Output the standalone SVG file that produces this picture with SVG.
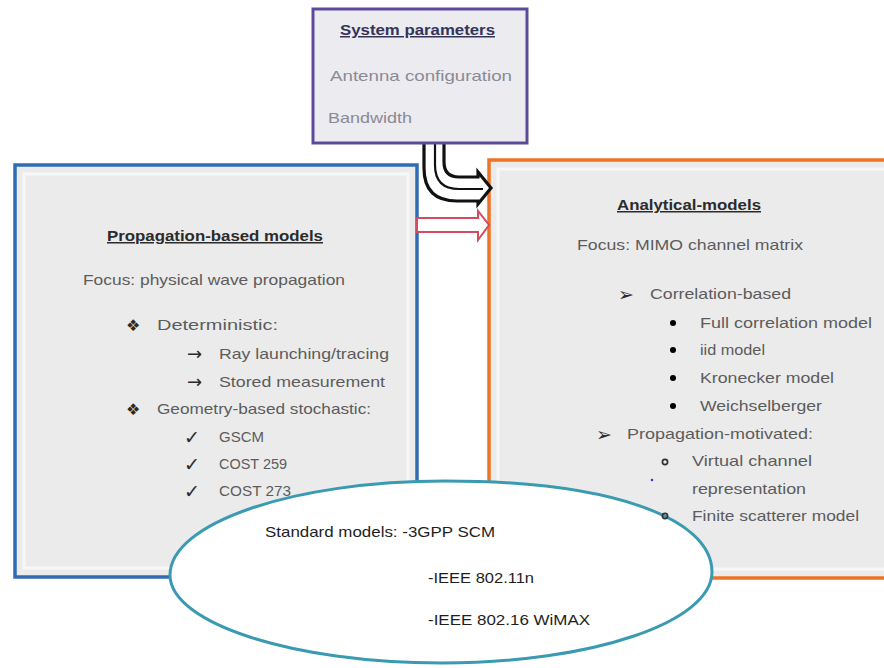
<svg xmlns="http://www.w3.org/2000/svg" width="884" height="668" viewBox="0 0 884 668">
  <style>
    .box { fill: #ebebeb; }
    .frame { fill: none; stroke: #f7f7f7; stroke-width: 3; }
    .t { font-family: "Liberation Sans", Arial, sans-serif; font-size: 15px; fill: #5c5c5c; }
    .h { font-family: "Liberation Sans", Arial, sans-serif; font-size: 15px; font-weight: bold; fill: #2b2b2b; text-decoration: underline; }
    .sym { font-family: "DejaVu Sans", sans-serif; fill: #2a2a2a; }
    .e { font-family: "Liberation Sans", Arial, sans-serif; font-size: 15px; fill: #1e1e1e; }
    .ring { fill: none; stroke: #333; stroke-width: 1.7; }
  </style>

  <rect width="884" height="668" fill="#ffffff"/>

  <!-- Propagation-based models -->
  <g id="propagation-models">
    <rect class="box" x="15" y="165" width="402" height="412"/>
    <rect class="frame" x="24" y="174" width="384" height="394"/>
    <rect x="15" y="165" width="402" height="412" fill="none" stroke="#2f6cb5" stroke-width="3.5"/>
    <text class="h" x="107" y="241" textLength="216" lengthAdjust="spacingAndGlyphs">Propagation-based models</text>
    <text class="t" x="83" y="285" textLength="262" lengthAdjust="spacingAndGlyphs">Focus: physical wave propagation</text>
    <text class="sym" x="126" y="331" font-size="16">❖</text>
    <text class="t" x="157" y="330" textLength="121" lengthAdjust="spacingAndGlyphs">Deterministic:</text>
    <text class="sym" x="187" y="360" font-size="18">→</text>
    <text class="t" x="219" y="359" textLength="170" lengthAdjust="spacingAndGlyphs">Ray launching/tracing</text>
    <text class="sym" x="187" y="388" font-size="18">→</text>
    <text class="t" x="219" y="387" textLength="166" lengthAdjust="spacingAndGlyphs">Stored measurement</text>
    <text class="sym" x="126" y="415" font-size="16">❖</text>
    <text class="t" x="157" y="414" textLength="214" lengthAdjust="spacingAndGlyphs">Geometry-based stochastic:</text>
    <text class="sym" x="184" y="444" font-size="19" font-weight="bold">✓</text>
    <text class="t" x="219" y="442">GSCM</text>
    <text class="sym" x="184" y="471" font-size="19" font-weight="bold">✓</text>
    <text class="t" x="219" y="469" textLength="68" lengthAdjust="spacingAndGlyphs">COST 259</text>
    <text class="sym" x="184" y="498" font-size="19" font-weight="bold">✓</text>
    <text class="t" x="219" y="496" textLength="72" lengthAdjust="spacingAndGlyphs">COST 273</text>
  </g>

  <!-- Analytical models -->
  <g id="analytical-models">
    <rect class="box" x="489" y="160" width="400" height="418"/>
    <rect class="frame" x="498" y="169" width="390" height="400"/>
    <rect x="489" y="160" width="400" height="418" fill="none" stroke="#ee7424" stroke-width="3.5"/>
    <text class="h" x="617" y="210" textLength="144" lengthAdjust="spacingAndGlyphs">Analytical-models</text>
    <text class="t" x="577" y="250" textLength="226" lengthAdjust="spacingAndGlyphs">Focus: MIMO channel matrix</text>
    <text class="sym" x="618" y="301" font-size="19" font-weight="bold">➢</text>
    <text class="t" x="650" y="299" textLength="141" lengthAdjust="spacingAndGlyphs">Correlation-based</text>
    <circle cx="673" cy="323" r="3"/>
    <text class="t" x="700" y="328" textLength="172" lengthAdjust="spacingAndGlyphs">Full correlation model</text>
    <circle cx="673" cy="350" r="3"/>
    <text class="t" x="700" y="355" textLength="65" lengthAdjust="spacingAndGlyphs">iid model</text>
    <circle cx="673" cy="378" r="3"/>
    <text class="t" x="700" y="383" textLength="134" lengthAdjust="spacingAndGlyphs">Kronecker model</text>
    <circle cx="673" cy="406" r="3"/>
    <text class="t" x="700" y="411" textLength="122" lengthAdjust="spacingAndGlyphs">Weichselberger</text>
    <text class="sym" x="596" y="441" font-size="19" font-weight="bold">➢</text>
    <text class="t" x="627" y="439" textLength="186" lengthAdjust="spacingAndGlyphs">Propagation-motivated:</text>
    <circle class="ring" cx="665" cy="462" r="2.6"/>
    <text class="t" x="692" y="466" textLength="120" lengthAdjust="spacingAndGlyphs">Virtual channel</text>
    <circle cx="652" cy="480" r="1.3" fill="#3a3ad0"/>
    <text class="t" x="692" y="494" textLength="114" lengthAdjust="spacingAndGlyphs">representation</text>
    <text class="t" x="692" y="521" textLength="167" lengthAdjust="spacingAndGlyphs">Finite scatterer model</text>
  </g>

  <!-- Connectors -->
  <g id="connectors">
    <path d="M424,144 V168 Q424,201 457,201 H478 V204 L491,188 L478,172 V177 H459 Q444,177 444,162 V144"
          fill="#ffffff" stroke="#111" stroke-width="3.2" stroke-linejoin="miter"/>
    <path d="M435,144 V165 Q435,189 459,189 H483" fill="none" stroke="#111" stroke-width="2.2"/>
    <path d="M417,218 H478 V211 L489,225 L478,240 V232 H417 Z"
          fill="#ffffff" stroke="#d44a60" stroke-width="2"/>
  </g>

  <!-- System parameters -->
  <g id="system-parameters">
    <rect x="313" y="9" width="214" height="134" fill="#ecebef" stroke="#5e4a9c" stroke-width="3"/>
    <text class="h" x="340" y="35" style="fill:#34345a" textLength="155" lengthAdjust="spacingAndGlyphs">System parameters</text>
    <text class="t" x="330" y="81" style="fill:#8a8a96" textLength="182" lengthAdjust="spacingAndGlyphs">Antenna configuration</text>
    <text class="t" x="328" y="123" style="fill:#8a8a96" textLength="84" lengthAdjust="spacingAndGlyphs">Bandwidth</text>
  </g>

  <!-- Standard models -->
  <g id="standard-models">
    <path d="M170,575 C170,523 293,481 445,481 C608,481 712,517 712,572 C712,622 592,663 442,663 C292,663 170,623 170,575 Z"
          fill="#ffffff" stroke="#3a9ab2" stroke-width="3"/>
    <text class="e" x="265" y="537" textLength="230" lengthAdjust="spacingAndGlyphs">Standard models: -3GPP SCM</text>
    <text class="e" x="428" y="583" textLength="106" lengthAdjust="spacingAndGlyphs">-IEEE 802.11n</text>
    <text class="e" x="428" y="625" textLength="162" lengthAdjust="spacingAndGlyphs">-IEEE 802.16 WiMAX</text>
  </g>

  <!-- bullet of the last list entry sits on the ellipse outline -->
  <circle class="ring" cx="665" cy="516" r="2.6"/>
</svg>
